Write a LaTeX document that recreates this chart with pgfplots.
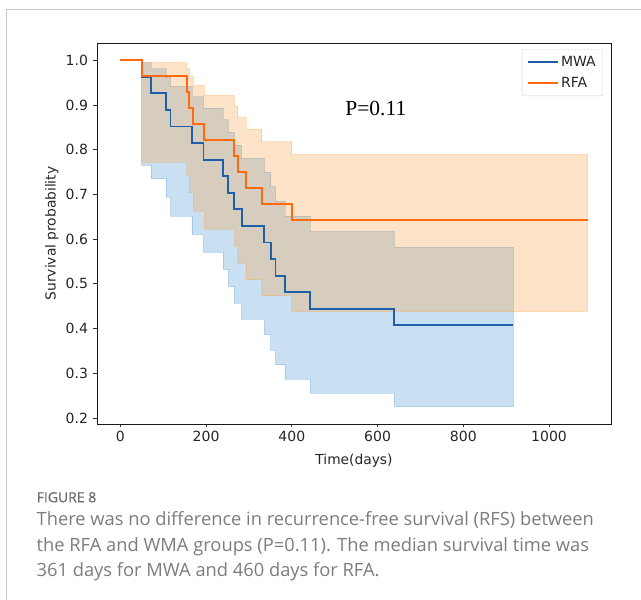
\documentclass[border=0pt]{standalone}
\usepackage{fontspec}
\setmainfont{DejaVu Sans}
\newfontfamily\pfont{Liberation Serif}
\newfontfamily\capfont{Open Sans}
\newfontfamily\figfont[FakeBold=0.6]{Open Sans}
\usepackage{pgfplots}
\pgfplotsset{compat=1.18}

\definecolor{mwaline}{HTML}{1F5FAA}
\definecolor{rfaline}{HTML}{FF6A10}
\definecolor{mwafill}{HTML}{4B94D4}
\definecolor{rfafill}{HTML}{F8A548}
\definecolor{capgray}{HTML}{7C7C7C}
\definecolor{figgray}{HTML}{6A6B6D}

% Kaplan-Meier estimates (held until the next event time)
\pgfplotstableread{
t     s
0     1.00000
50    0.96296
72    0.92593
107   0.88889
117   0.85185
167   0.81481
194   0.77778
240   0.74074
252   0.70370
266   0.66667
283   0.62963
336   0.59259
351   0.55556
362   0.51852
384   0.48148
443   0.44444
639   0.40741
917   0.40741
}\mwa

\pgfplotstableread{
t     s
0     1.00000
50    0.96429
155   0.92857
161   0.89286
170   0.85714
196   0.82143
266   0.78571
274   0.75000
293   0.71429
330   0.67857
400   0.64286
1090  0.64286
}\rfa

\begin{document}
\begin{tikzpicture}[x=1pt,y=1pt]
\path[use as bounding box] (0,0) rectangle (641,600);
% panel frame
\draw[black!22, line width=1pt] (6.5,0) -- (6.5,590.5) -- (641,590.5);

\begin{axis}[
  at={(97pt,176pt)}, anchor=south west,
  scale only axis, width=514pt, height=381pt,
  xmin=-54.5, xmax=1144.5, ymin=0.1866, ymax=1.0387,
  xtick={0,200,400,600,800,1000},
  ytick={0.2,0.3,0.4,0.5,0.6,0.7,0.8,0.9,1.0},
  xticklabel style={/pgf/number format/.cd, 1000 sep={}},
  yticklabel style={/pgf/number format/.cd, fixed, fixed zerofill, precision=1, /tikz/.cd, xshift=-2pt},
  /pgf/number format/assume math mode=true,
  tick align=outside, tick pos=left,
  major tick length=3.5pt,
  every tick/.style={black!80, line width=0.8pt},
  axis line style={black!90, line width=0.8pt},
  tick label style={font=\fontsize{14}{16}\selectfont, text=black!85},
  label style={font=\fontsize{13.8}{16}\selectfont, text=black!85},
  xlabel={Time(days)},
  ylabel={Survival probability},
  xlabel style={at={(axis description cs:0.5,-0.0971)}, anchor=center},
  ylabel style={at={(axis description cs:-0.0881,0.5)}, anchor=center},
  legend style={at={(0.9844,0.9835)}, anchor=north east,
    draw=black!18, rounded corners=2pt, fill=white,
    font=\fontsize{14}{16}\selectfont, text=black!85,
    inner xsep=5pt, inner ysep=5pt, row sep=5pt,
    /tikz/every even column/.append style={column sep=13pt}},
  legend cell align=left,
  legend image code/.code={\draw[#1] (0pt,0pt) -- (30pt,0pt);},
]
\addlegendimage{mwaline, line width=1.9pt}
\addlegendentry{MWA}
\addlegendimage{rfaline, line width=1.9pt}
\addlegendentry{RFA}
% 95% confidence band, MWA: upper bound forward, lower bound back
\addplot[fill=mwafill, draw=mwafill, opacity=0.3, line width=0.8pt, forget plot] coordinates {
 (0,1) (50,1) (50,0.9947) (72,0.9947) (72,0.9809) (107,0.9809) (107,0.9628) (117,0.9628)
 (117,0.9417) (167,0.9417) (167,0.9184) (194,0.9184) (194,0.8935) (240,0.8935)
 (240,0.8670) (252,0.8670) (252,0.8394) (266,0.8394) (266,0.8106) (283,0.8106)
 (283,0.7807) (336,0.7807) (336,0.7499) (351,0.7499) (351,0.7181) (362,0.7181)
 (362,0.6855) (384,0.6855) (384,0.6519) (443,0.6519) (443,0.6175) (639,0.6175)
 (639,0.5821) (917,0.5821)
 (917,0.2253) (639,0.2253) (639,0.2556) (443,0.2556) (443,0.2869) (384,0.2869)
 (384,0.3191) (362,0.3191) (362,0.3522) (351,0.3522) (351,0.3863) (336,0.3863)
 (336,0.4212) (283,0.4212) (283,0.4571) (266,0.4571) (266,0.4940) (252,0.4940)
 (252,0.5319) (240,0.5319) (240,0.5709) (194,0.5709) (194,0.6109) (167,0.6109)
 (167,0.6520) (117,0.6520) (117,0.6939) (107,0.6939) (107,0.7351) (72,0.7351)
 (72,0.7649) (50,0.7649) (50,1)
} -- cycle;
% 95% confidence band, RFA
\addplot[fill=rfafill, draw=rfafill, opacity=0.3, line width=0.8pt, forget plot] coordinates {
 (0,1) (50,1) (50,0.9949) (155,0.9949) (155,0.9817) (161,0.9817) (161,0.9641) (170,0.9641)
 (170,0.9438) (196,0.9438) (196,0.9215) (266,0.9215) (266,0.8975) (274,0.8975)
 (274,0.8722) (293,0.8722) (293,0.8456) (330,0.8456) (330,0.8180) (400,0.8180)
 (400,0.7894) (1090,0.7894)
 (1090,0.4381) (400,0.4381) (400,0.4731) (330,0.4731) (330,0.5091) (293,0.5091)
 (293,0.5461) (274,0.5461) (274,0.5840) (266,0.5840) (266,0.6229) (196,0.6229)
 (196,0.6629) (170,0.6629) (170,0.7036) (161,0.7036) (161,0.7435) (155,0.7435)
 (155,0.7724) (50,0.7724) (50,1)
} -- cycle;
% survival curves
\addplot[mwaline, line width=1.9pt, const plot, forget plot] table[x=t, y=s] {\mwa};
\addplot[rfaline, line width=1.9pt, const plot, forget plot] table[x=t, y=s] {\rfa};
\node[font=\pfont\fontsize{21.5}{24}\selectfont, text=black] at (axis cs:596,0.892) {P=0.11};
\end{axis}

% caption
\node[anchor=base west, inner sep=0pt, text=figgray, font=\figfont\fontsize{14}{16}\selectfont] at (36.5,97.7) {FIGURE 8};
\node[anchor=base west, inner sep=0pt, text=capgray, font=\capfont\fontsize{18.3}{20}\selectfont] at (36.5,74) {There was no difference in recurrence-free survival (RFS) between};
\node[anchor=base west, inner sep=0pt, text=capgray, font=\capfont\fontsize{18.3}{20}\selectfont] at (36.5,48.3) {the RFA and WMA groups (P=0.11). The median survival time was};
\node[anchor=base west, inner sep=0pt, text=capgray, font=\capfont\fontsize{18.3}{20}\selectfont] at (36.5,23.3) {361 days for MWA and 460 days for RFA.};
\end{tikzpicture}
\end{document}
